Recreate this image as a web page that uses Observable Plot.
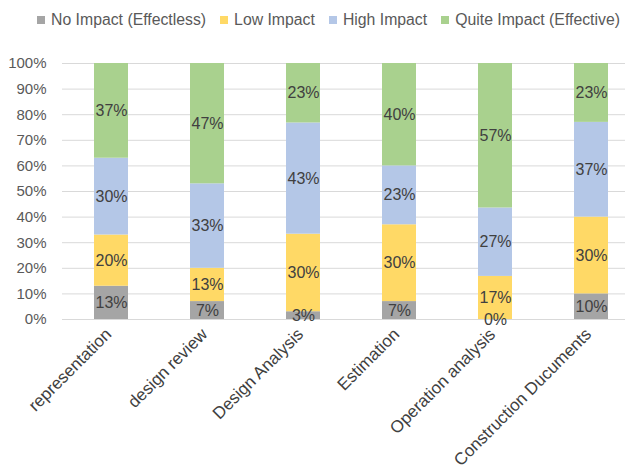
<!DOCTYPE html>
<html>
<head>
<meta charset="utf-8">
<script src="https://cdn.jsdelivr.net/npm/d3@7"></script>
<script src="https://cdn.jsdelivr.net/npm/@observablehq/plot@0.6"></script>
<style>
  body { margin: 0; background: #fff; font-family: "Liberation Sans", Arial, sans-serif; }
  #legend { height: 40px; display: flex; align-items: center; padding-left: 37px; box-sizing: border-box; font-size: 15.8px; color: #595959; }
  #legend .item { display: flex; align-items: center; margin-right: 14px; white-space: nowrap; }
  #legend .sw { width: 8px; height: 8px; margin-right: 6px; }
</style>
</head>
<body>
<div id="legend"></div>
<div id="chart"></div>
<script>
const categories = ["representation", "design review", "Design Analysis", "Estimation", "Operation analysis", "Construction Ducuments"];
const seriesNames = ["No Impact (Effectless)", "Low Impact", "High Impact", "Quite Impact (Effective)"];
const seriesColors = ["#A5A5A5", "#FFD966", "#B4C7E7", "#A9D18E"];
const noImpact    = [13, 7, 3, 7, 0, 10];
const lowImpact   = [20, 13, 30, 30, 17, 30];
const highImpact  = [30, 33, 43, 23, 27, 37];
const quiteImpact = [37, 47, 23, 40, 57, 23];
const yTicks = [0, 0.1, 0.2, 0.3, 0.4, 0.5, 0.6, 0.7, 0.8, 0.9, 1];

const seriesValues = [noImpact, lowImpact, highImpact, quiteImpact];
const data = [];
categories.forEach((c, i) => {
  seriesNames.forEach((s, j) => {
    data.push({cat: c, series: s, value: seriesValues[j][i]});
  });
});

// legend
const legend = document.getElementById("legend");
seriesNames.forEach((s, j) => {
  const it = document.createElement("div");
  it.className = "item";
  const sw = document.createElement("span");
  sw.className = "sw";
  sw.style.background = seriesColors[j];
  it.appendChild(sw);
  it.appendChild(document.createTextNode(s));
  legend.appendChild(it);
});

const stackOpts = {offset: "normalize", order: seriesNames};

const chart = Plot.plot({
  width: 625,
  height: 434,
  marginTop: 23,
  marginBottom: 155,
  marginLeft: 62,
  marginRight: 0,
  style: {fontFamily: "Liberation Sans, Arial, sans-serif", fontSize: "15px", background: "#fff"},
  x: {domain: categories, range: [62.5, 638.5], paddingInner: 0.65, paddingOuter: 0.325, label: null},
  y: {domain: [0, 1], label: null},
  color: {domain: seriesNames, range: seriesColors},
  marks: [
    Plot.gridY(yTicks, {stroke: "#D9D9D9", strokeOpacity: 1, strokeWidth: 1}),
    Plot.axisY(yTicks, {tickFormat: d3.format(".0%"), tickSize: 0, tickPadding: 16, fill: "#595959", fontSize: 15, label: null}),
    Plot.axisX({tickSize: 0, tickRotate: -45, tickPadding: 4, dx: -3, dy: 8, fill: "#404040", fontSize: 17, label: null}),
    Plot.barY(data, Plot.stackY({...stackOpts, x: "cat", y: "value", fill: "series"})),
    Plot.text(data, Plot.stackY({...stackOpts, x: "cat", y: "value", z: "series", text: d => d.value + "%", fill: "#404040", fontSize: 16}))
  ]
});
document.getElementById("chart").appendChild(chart);
</script>
</body>
</html>
